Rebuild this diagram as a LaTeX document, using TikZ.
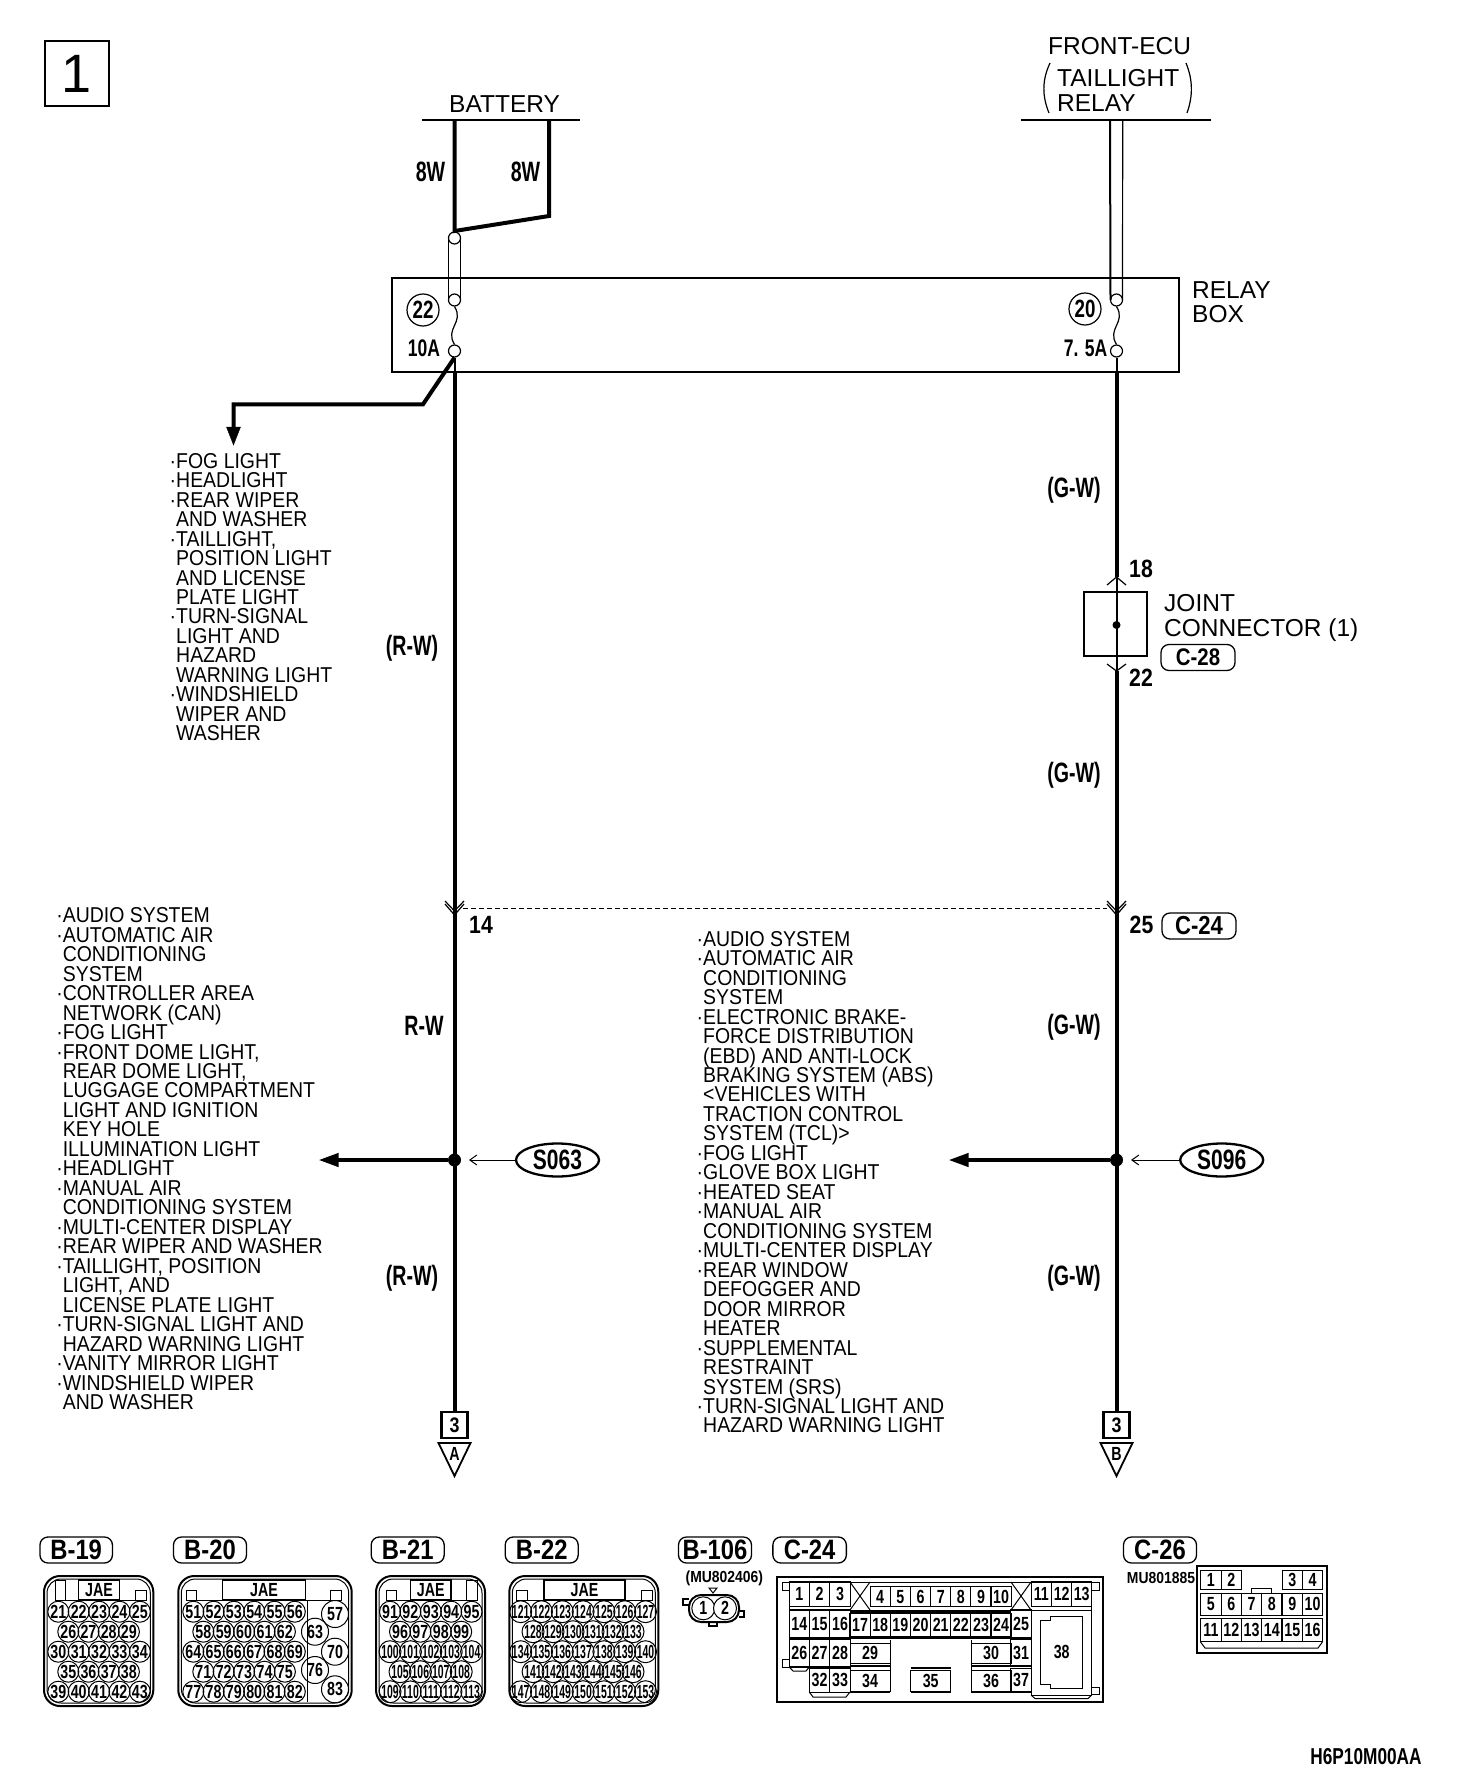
\documentclass[tikz,border=0pt]{standalone}
\usepackage{fontspec}
\setmainfont{Liberation Sans}
\newfontfamily\listfont[FakeStretch=0.905]{Liberation Sans}
\newfontfamily\lblfont[FakeStretch=0.85]{Liberation Sans}
\newfontfamily\codefont[FakeStretch=0.7]{Liberation Sans}
\newfontfamily\ampfont[FakeStretch=0.73]{Liberation Sans}
\newfontfamily\partfont[FakeStretch=0.87]{Liberation Sans}
\newfontfamily\pinfont[FakeStretch=0.75]{Liberation Sans}
\newfontfamily\tinypinfont[FakeStretch=0.55]{Liberation Sans}
\usetikzlibrary{shapes.geometric,arrows.meta}

% list text with fixed line spacing
\newcommand{\listsetup}{\listfont\fontsize{21.5}{19.47}\selectfont\lineskiplimit=-20pt\relax}
% one row of round connector pins
\newcommand{\pinrow}[5]{%
  \foreach \n [count=\i from 0] in {#1,...,#2} {
    \node[pinhole] (p\n) at ({#3+\i*#5},#4) {\ifnum\n>99 \tinypinfont\fi\n};
  }}
% outer wall of a round pin connector
\newcommand{\housing}[2]{%
  \draw[line width=2pt, rounded corners=16pt] (#1,1576) rectangle (#2,1706);
  \draw[line width=1pt, rounded corners=14pt] (#1+3,1579) rectangle (#2-3,1703);}

\begin{document}
\begin{tikzpicture}[x=1pt,y=-1pt]
        % Define styles for nodes and edges
        \tikzstyle{wire}=[line width=4pt]
        \tikzstyle{thinwire}=[line width=2pt]
        \tikzstyle{sheath}=[line width=1.2pt]
        \tikzstyle{busbar}=[line width=2.6pt]
        \tikzstyle{branch}=[wire, -{Triangle[length=20pt,width=13pt]}]
        \tikzstyle{pointer}=[line width=1pt, -{Straight Barb[length=7pt,width=10pt]}]
        \tikzstyle{plug}=[line width=1.2pt]
        \tikzstyle{terminal}=[circle, draw=black, fill=white, line width=1.2pt, minimum size=12pt, inner sep=0pt]
        \tikzstyle{fusenum}=[circle, draw=black, line width=1.2pt, minimum size=32pt, inner sep=0pt, font=\pinfont\bfseries\fontsize{25}{25}\selectfont]
        \tikzstyle{junction}=[circle, fill=black, minimum size=13pt, inner sep=0pt]
        \tikzstyle{wirelabel}=[inner sep=0pt, font=\codefont\bfseries\fontsize{28}{28}\selectfont]
        \tikzstyle{amplabel}=[inner sep=0pt, font=\ampfont\bfseries\fontsize{24}{24}\selectfont]
        \tikzstyle{pinlabel}=[inner sep=0pt, font=\lblfont\bfseries\fontsize{25}{25}\selectfont]
        \tikzstyle{plainlabel}=[inner sep=0pt, align=left, font=\fontsize{24.5}{25}\selectfont]
        \tikzstyle{listing}=[inner sep=0pt, align=left, anchor=north west, font=\listsetup]
        \tikzstyle{badge}=[draw=black, line width=1.3pt, rounded corners=8pt, minimum height=26pt, inner sep=0pt, font=\lblfont\bfseries\fontsize{28}{28}\selectfont]
        \tikzstyle{splice}=[ellipse, draw=black, line width=2.3pt, minimum width=83pt, minimum height=33pt, inner sep=0pt, font=\pinfont\bfseries\fontsize{28}{28}\selectfont]
        \tikzstyle{sheet}=[draw=black, line width=2.4pt, minimum size=26pt, inner sep=0pt, font=\lblfont\bfseries\fontsize{21}{21}\selectfont]
        \tikzstyle{pinhole}=[circle, draw=black, line width=1pt, minimum size=21pt, inner sep=0pt, font=\pinfont\bfseries\fontsize{19}{19}\selectfont]
        \tikzstyle{bigpin}=[pinhole, minimum size=27pt]
        \tikzstyle{jae}=[draw=black, line width=1.2pt, minimum height=20pt, inner sep=0pt, font=\pinfont\bfseries\fontsize{19}{19}\selectfont]
        \tikzstyle{cell}=[draw=black, line width=1pt, inner sep=0pt, font=\pinfont\bfseries\fontsize{19}{19}\selectfont]
        \tikzstyle{partno}=[inner sep=0pt, font=\partfont\bfseries\fontsize{16}{16}\selectfont]
        \tikzstyle{thinline}=[line width=1pt]
        \tikzstyle{rule}=[line width=2pt]

        \useasboundingbox (0,0) rectangle (1456,1782);

        % Define title
        \node[draw=black, line width=2pt, minimum width=64pt, minimum height=65pt, inner sep=0pt, font=\fontsize{54}{54}\selectfont] (title) at (77,73.5) {1};

        % Define sources
        \node[plainlabel, anchor=base west] (battery) at (449,113) {BATTERY};
        \coordinate (batL) at (422,120);
        \coordinate (batR) at (580,120);
        \coordinate (wireA) at (454.5,120);
        \coordinate (wireB) at (549,120);
        \coordinate (kneeB) at (549,216);
        \coordinate (kneeA) at (454.5,231);
        \node[plainlabel, anchor=base west] (frontecu) at (1048,55) {FRONT-ECU};
        \node[plainlabel, anchor=base west] (taillight) at (1057,87) {TAILLIGHT};
        \node[plainlabel, anchor=base west] (relaytxt) at (1057,112) {RELAY};
        \coordinate (ecuL) at (1021,120);
        \coordinate (ecuR) at (1211,120);
        \coordinate (ecuA) at (1110,120);
        \coordinate (ecuB) at (1122.7,120);
        \draw[sheath] (1050,63) .. controls (1042,80) and (1042,96) .. (1049,113);
        \draw[sheath] (1186,63) .. controls (1193,80) and (1193,96) .. (1187,113);
        \node[wirelabel] (lab8a) at (430.5,171.5) {8W};
        \node[wirelabel] (lab8b) at (525.5,171.5) {8W};

        % Define relay box
        \node[draw=black, line width=1.2pt, minimum width=787pt, minimum height=94pt, inner sep=0pt] (relaybox) at (785.5,325) {};
        \node[plainlabel, anchor=north west, font=\fontsize{24.5}{24}\selectfont] (relaybl) at (1192,281) {RELAY\\BOX};
        \node[terminal] (tA) at (454.5,238) {};
        \node[terminal] (tB) at (454.5,300) {};
        \node[terminal] (tC) at (454.5,351) {};
        \node[terminal] (tD) at (1116.5,300) {};
        \node[terminal] (tE) at (1116.5,351) {};
        \node[fusenum] (f22) at (423,310) {22};
        \node[fusenum] (f20) at (1085,309) {20};
        \node[amplabel] (amp10) at (424,348) {10A};
        \node[amplabel] (amp75) at (1085.5,348) {7. 5A};

        % Define joint connector
        \node[draw=black, line width=1.2pt, minimum width=63pt, minimum height=64pt, inner sep=0pt] (joint) at (1115.5,624) {};
        \node[junction, minimum size=8pt] (jointdot) at (1116.5,625) {};
        \node[pinlabel] (pin18) at (1141,569) {18};
        \node[pinlabel] (pin22) at (1141,678) {22};
        \node[plainlabel, anchor=north west] (jointtxt) at (1164,594) {JOINT\\CONNECTOR (1)};
        \node[badge, minimum width=74pt, font=\lblfont\bfseries\fontsize{24}{24}\selectfont] (c28) at (1198,657.5) {C-28};

        % Define lower connector and junctions
        \node[pinlabel] (pin14) at (481,925) {14};
        \node[pinlabel] (pin25) at (1141.5,925) {25};
        \node[badge, minimum width=74pt, font=\lblfont\bfseries\fontsize{26}{26}\selectfont] (c24top) at (1199,926) {C-24};
        \node[junction] (jA) at (454.5,1160) {};
        \node[junction] (jB) at (1116.5,1160) {};
        \coordinate (tipA) at (318.5,1160);
        \coordinate (tipB) at (948.5,1160);
        \node[splice] (s063) at (557.5,1160) {S063};
        \node[splice] (s096) at (1221.7,1160) {S096};
        \coordinate (markA) at (469,1160);
        \coordinate (markB) at (1131,1160);
        \node[sheet] (offA) at (454.5,1425) {3};
        \node[sheet] (offB) at (1116.5,1425) {3};
        \node[inner sep=0pt, font=\pinfont\bfseries\fontsize{19}{19}\selectfont] (letA) at (454.5,1454) {A};
        \node[inner sep=0pt, font=\pinfont\bfseries\fontsize{19}{19}\selectfont] (letB) at (1116.5,1454) {B};

        % Define wire colour codes
        \node[wirelabel] (gw1) at (1074,490.5) {(G-W)};
        \node[wirelabel] (gw2) at (1074,775) {(G-W)};
        \node[wirelabel] (gw3) at (1074,1027.5) {(G-W)};
        \node[wirelabel] (gw4) at (1074,1278.5) {(G-W)};
        \node[wirelabel] (rw1) at (412,648.5) {(R-W)};
        \node[wirelabel] (rw2) at (424,1026) {R-W};
        \node[wirelabel] (rw3) at (412,1278.5) {(R-W)};

        % Draw wires
        \draw[busbar] (batL) -- (batR);
        \draw[busbar] (ecuL) -- (ecuR);
        \draw[wire, line join=miter] (wireA) -- (kneeA) -- (kneeB) -- (wireB);
        \draw[sheath] ([xshift=-6pt]tA.center) -- ([xshift=-6pt]tB.center);
        \draw[sheath] ([xshift=6pt]tA.center) -- ([xshift=6pt]tB.center);
        \draw[thinwire] (ecuA) -- ([xshift=-6pt]tD.center);
        \draw[sheath] (ecuB) -- ([xshift=6pt]tD.center);
        \draw[sheath] (tB.south) .. controls +(10,16) and +(-10,-16) .. (tC.north);
        \draw[sheath] (tD.south) .. controls +(10,16) and +(-10,-16) .. (tE.north);
        \draw[thinwire] (tC.south) -- (relaybox.south -| tC);
        \draw[thinwire] (tE.south) -- (relaybox.south -| tE);
        \draw[wire] (relaybox.south -| tC) -- (offA.north);
        \draw[wire] (relaybox.south -| tE) -- (1116.5,577);
        \draw[thinwire] (1116.5,577) -- (1116.5,671);
        \draw[wire] (1116.5,671) -- (offB.north);
        \coordinate (drop) at (423,404.3);
        \coordinate (dropend) at (233.5,445);
        \draw[wire, line join=miter] (tC.south) -- (drop) -- (dropend |- drop) -- ([yshift=16pt]dropend);
        \draw[fill=black] (226.5,427) -- (240.5,427) -- (dropend) -- cycle;
        \draw[branch] (jA) -- (tipA);
        \draw[branch] (jB) -- (tipB);
        \draw[pointer] (s063) -- (markA);
        \draw[pointer] (s096) -- (markB);

        % Draw plugs
        \draw[plug] (1107,585) -- (1116.5,577) -- (1126,585);
        \draw[plug] (1107,664) -- (1116.5,671) -- (1126,664);
        \foreach \px in {454.5,1116.5} {
          \draw[plug] (\px-9.5,901) -- (\px,911) -- (\px+9.5,901);
          \draw[plug] (\px-9.5,904) -- (\px,915) -- (\px+9.5,904);
        }
        \coordinate (dashA) at (463,908);
        \coordinate (dashB) at (1107,908);
        \draw[thinline, dash pattern=on 5pt off 3pt] (dashA) -- (dashB);

        % Draw off-page triangles
        \foreach \px in {454.5,1116.5} {
          \draw[line width=1.8pt] (\px-16,1443) -- (\px+16,1443) -- (\px,1476) -- cycle;
        }

        % Define system lists
        \node[listing] (listfog) at (176,453) {%
          \llap{\textperiodcentered}FOG LIGHT\\
          \llap{\textperiodcentered}HEADLIGHT\\
          \llap{\textperiodcentered}REAR WIPER\\
          AND WASHER\\
          \llap{\textperiodcentered}TAILLIGHT,\\
          POSITION LIGHT\\
          AND LICENSE\\
          PLATE LIGHT\\
          \llap{\textperiodcentered}TURN-SIGNAL\\
          LIGHT AND\\
          HAZARD\\
          WARNING LIGHT\\
          \llap{\textperiodcentered}WINDSHIELD\\
          WIPER AND\\
          WASHER};
        \node[listing] (lists063) at (62.6,907.5) {%
          \llap{\textperiodcentered}AUDIO SYSTEM\\
          \llap{\textperiodcentered}AUTOMATIC AIR\\
          CONDITIONING\\
          SYSTEM\\
          \llap{\textperiodcentered}CONTROLLER AREA\\
          NETWORK (CAN)\\
          \llap{\textperiodcentered}FOG LIGHT\\
          \llap{\textperiodcentered}FRONT DOME LIGHT,\\
          REAR DOME LIGHT,\\
          LUGGAGE COMPARTMENT\\
          LIGHT AND IGNITION\\
          KEY HOLE\\
          ILLUMINATION LIGHT\\
          \llap{\textperiodcentered}HEADLIGHT\\
          \llap{\textperiodcentered}MANUAL AIR\\
          CONDITIONING SYSTEM\\
          \llap{\textperiodcentered}MULTI-CENTER DISPLAY\\
          \llap{\textperiodcentered}REAR WIPER AND WASHER\\
          \llap{\textperiodcentered}TAILLIGHT, POSITION\\
          LIGHT, AND\\
          LICENSE PLATE LIGHT\\
          \llap{\textperiodcentered}TURN-SIGNAL LIGHT AND\\
          HAZARD WARNING LIGHT\\
          \llap{\textperiodcentered}VANITY MIRROR LIGHT\\
          \llap{\textperiodcentered}WINDSHIELD WIPER\\
          AND WASHER};
        \node[listing] (lists096) at (703,931) {%
          \llap{\textperiodcentered}AUDIO SYSTEM\\
          \llap{\textperiodcentered}AUTOMATIC AIR\\
          CONDITIONING\\
          SYSTEM\\
          \llap{\textperiodcentered}ELECTRONIC BRAKE-\\
          FORCE DISTRIBUTION\\
          (EBD) AND ANTI-LOCK\\
          BRAKING SYSTEM (ABS)\\
          <VEHICLES WITH\\
          TRACTION CONTROL\\
          SYSTEM (TCL)>\\
          \llap{\textperiodcentered}FOG LIGHT\\
          \llap{\textperiodcentered}GLOVE BOX LIGHT\\
          \llap{\textperiodcentered}HEATED SEAT\\
          \llap{\textperiodcentered}MANUAL AIR\\
          CONDITIONING SYSTEM\\
          \llap{\textperiodcentered}MULTI-CENTER DISPLAY\\
          \llap{\textperiodcentered}REAR WINDOW\\
          DEFOGGER AND\\
          DOOR MIRROR\\
          HEATER\\
          \llap{\textperiodcentered}SUPPLEMENTAL\\
          RESTRAINT\\
          SYSTEM (SRS)\\
          \llap{\textperiodcentered}TURN-SIGNAL LIGHT AND\\
          HAZARD WARNING LIGHT};

        % Define connector badges
        \node[badge, minimum width=72.5pt] (b19) at (76.2,1550) {B-19};
        \node[badge, minimum width=73pt] (b20) at (210,1550) {B-20};
        \node[badge, minimum width=73pt] (b21) at (407.7,1550) {B-21};
        \node[badge, minimum width=73pt] (b22) at (541.7,1550) {B-22};
        \node[badge, minimum width=73pt] (b106) at (715,1550) {B-106};
        \node[badge, minimum width=73.5pt] (c24) at (809.6,1550) {C-24};
        \node[badge, minimum width=73pt] (c26) at (1160,1550) {C-26};

        % Draw B-19
        \housing{44}{153.3}
        \node[jae, minimum width=40.3pt] (jae19) at (99,1590) {JAE};
        \draw[thinline] (55,1600.5) -- (146.7,1600.5);
        \draw[thinline] (55,1600.5) |- (65,1580) -- (65,1600.5);
        \draw[thinline] (135.3,1600.5) |- (146.7,1590.7) -- (146.7,1600.5);
        \pinrow{21}{25}{58.3}{1611.7}{20.4}
        \pinrow{26}{29}{68.3}{1631.7}{20.2}
        \pinrow{30}{34}{58.3}{1651.7}{20.4}
        \pinrow{35}{38}{68.3}{1671.7}{20.2}
        \pinrow{39}{43}{58.3}{1691.7}{20.4}

        % Draw B-20
        \housing{178.3}{351.7}
        \node[jae, minimum width=82.3pt] (jae20) at (264,1590) {JAE};
        \draw[thinline] (186,1600.5) -- (341.7,1600.5);
        \draw[thinline] (186,1600.5) |- (196.7,1590.7) -- (196.7,1600.5);
        \draw[thinline] (330.7,1600.5) |- (341.7,1590.7) -- (341.7,1600.5);
        \draw[thinline] (307.3,1600.5) -- (307.3,1702);
        \pinrow{51}{56}{193.3}{1611.7}{20.3}
        \pinrow{58}{62}{203.3}{1631.7}{20.4}
        \pinrow{64}{69}{193.3}{1651.7}{20.3}
        \pinrow{71}{75}{203.3}{1671.7}{20.4}
        \pinrow{77}{82}{193.3}{1691.7}{20.3}
        \node[bigpin] (p57) at (335,1614) {57};
        \node[bigpin] (p63) at (315,1631.7) {63};
        \node[bigpin] (p70) at (335,1651.7) {70};
        \node[bigpin] (p76) at (315,1670) {76};
        \node[bigpin] (p83) at (335,1689.3) {83};

        % Draw B-21
        \housing{376}{485}
        \node[jae, minimum width=40.3pt] (jae21) at (430.8,1590) {JAE};
        \draw[thinline] (386,1600.5) -- (477.3,1600.5);
        \draw[thinline] (386,1600.5) |- (396.7,1590.7) -- (396.7,1600.5);
        \draw[thinline] (466.7,1600.5) |- (477.3,1580) -- (477.3,1600.5);
        \pinrow{91}{95}{390}{1611.7}{20.4}
        \pinrow{96}{99}{400}{1631.7}{20.4}
        \pinrow{100}{104}{390}{1651.7}{20.4}
        \pinrow{105}{108}{400}{1671.7}{20.4}
        \pinrow{109}{113}{390}{1691.7}{20.4}

        % Draw B-22
        \housing{509.3}{658.3}
        \node[jae, minimum width=81pt] (jae22) at (584.5,1590) {JAE};
        \draw[thinline] (516.7,1600.5) -- (652.7,1600.5);
        \draw[thinline] (516.7,1600.5) |- (527.3,1590.7) -- (527.3,1600.5);
        \draw[thinline] (641.7,1600.5) |- (652.7,1590.7) -- (652.7,1600.5);
        \pinrow{121}{127}{520.7}{1611.7}{20.8}
        \pinrow{128}{133}{533}{1631.7}{20}
        \pinrow{134}{140}{520.7}{1651.7}{20.8}
        \pinrow{141}{146}{533}{1671.7}{20}
        \pinrow{147}{153}{520.7}{1691.7}{20.8}

        % Draw B-106
        \node[partno] (mu106) at (724.3,1578) {(MU802406)};
        \draw[thinline] (709,1588) -- (717,1588) -- (713,1593) -- cycle;
        \draw[rule, rounded corners=12pt] (689,1595) rectangle (739,1622);
        \draw[rule] (689,1599.3) -| (682.7,1605) -- (689,1605);
        \draw[rule] (739,1610.7) -| (744,1616.7) -- (739,1616.7);
        \draw[rule] (709.3,1622) |- (716.7,1626) -- (716.7,1622);
        \node[pinhole, fill=white, minimum size=23pt] (q1) at (703.3,1608.3) {1};
        \node[pinhole, fill=white, minimum size=23pt] (q2) at (725,1608.3) {2};

        % Draw C-24
        \draw[rule] (777.3,1576.7) rectangle (1103.3,1702.3);
        \draw[thinline] (789.3,1582) rectangle (1091.7,1610);
        \draw[thinline] (789.3,1610) rectangle (850,1667);
        \draw[thinline] (1031,1610) rectangle (1091.7,1695);
        \draw[thinline] (809.3,1667) -- (809.3,1692);
        \draw[thinline] (809.3,1692) -- (813,1697) -- (846,1697) -- (850,1692);
        \draw[thinline] (789.3,1667) -- (793,1671) -- (806,1671) -- (809.3,1667);
        \draw[thinline] (1031,1695) -- (1035,1698.5) -- (1088,1698.5) -- (1091.7,1695);
        \draw[thinline] (782,1582) rectangle (789.3,1590);
        \draw[thinline] (782,1659) rectangle (789.3,1667);
        \draw[thinline] (1091.7,1582) rectangle (1099.3,1590);
        \draw[thinline] (1091.7,1687) rectangle (1099.3,1694.3);
        \foreach \n/\px in {1/799.3,2/819.6,3/840,11/1041.3,12/1061.7,13/1081.7} {
          \node[cell, minimum width=20.3pt, minimum height=24.7pt] (c\n) at (\px,1594.3) {\n};
        }
        \foreach \n/\px in {4/880.2,5/900.3,6/920.5,7/940.7,8/960.8,9/981,10/1001} {
          \node[cell, minimum width=20.2pt, minimum height=20pt] (c\n) at (\px,1596.7) {\n};
        }
        \foreach \n/\px in {14/799.3,15/819.6,16/840,25/1021} {
          \node[cell, minimum width=20.2pt, minimum height=27.5pt] (c\n) at (\px,1623.7) {\n};
        }
        \foreach \n/\px in {17/860,18/880.2,19/900.3,20/920.5,21/940.7,22/960.8,23/981,24/1001} {
          \node[cell, minimum width=20.2pt, minimum height=23.4pt] (c\n) at (\px,1625) {\n};
        }
        \foreach \n/\px in {26/799.3,27/819.6,28/840,31/1021} {
          \node[cell, minimum width=20.2pt, minimum height=26.7pt] (c\n) at (\px,1653.3) {\n};
        }
        \foreach \n/\px in {29/870,30/991} {
          \node[cell, minimum width=40pt, minimum height=20pt] (c\n) at (\px,1653.3) {\n};
        }
        \foreach \n/\px in {32/819.6,33/840,37/1021} {
          \node[cell, minimum width=20.2pt, minimum height=24pt] (c\n) at (\px,1680) {\n};
        }
        \foreach \n/\px in {34/870,35/930.7,36/991} {
          \node[cell, minimum width=40pt, minimum height=21pt] (c\n) at (\px,1681.2) {\n};
        }
        \draw[thinline] (850,1582) -- (870,1610) (870,1582) -- (850,1610);
        \draw[thinline] (1011,1582) -- (1031,1610) (1031,1582) -- (1011,1610);
        \draw[rule] (789.3,1637.5) -- (1031,1637.5);
        \draw[rule] (850,1612) -- (1011,1612);
        \draw[rule] (850,1666) -- (890,1666);
        \draw[rule] (971,1666) -- (1031,1666);
        \draw[rule] (910.5,1668) -- (951,1668);
        \draw[rule] (850,1692) -- (890,1692);
        \draw[rule] (910.5,1692) -- (951,1692);
        \draw[rule] (971,1692) -- (1031,1692);
        \draw[thinline] (890,1640) -- (890,1692);
        \draw[thinline] (971,1640) -- (971,1692);
        \draw[thinline] (1031,1640) -- (1031,1692);
        \node[inner sep=0pt, font=\pinfont\bfseries\fontsize{19}{19}\selectfont] (c38) at (1061.7,1652.3) {38};
        \draw[thinline] (1040,1620.7) -- (1050,1620.7) -- (1050,1616) -- (1082.7,1616) -- (1082.7,1688.3) -- (1050,1688.3) -- (1050,1684) -- (1040,1684) -- cycle;

        % Draw C-26
        \node[partno] (mu26) at (1161,1578.3) {MU801885};
        \draw[rule] (1197,1566) rectangle (1326.7,1653.3);
        \foreach \n/\px in {1/1210.9,2/1231.4,3/1292.3,4/1312.6} {
          \node[cell, minimum width=20.3pt, minimum height=19.3pt] (d\n) at (\px,1580.3) {\n};
        }
        \foreach \n/\px in {5/1210.9,6/1231.4,7/1251.5,8/1271.8,9/1292.3,10/1312.6} {
          \node[cell, minimum width=20.3pt, minimum height=22pt] (d\n) at (\px,1604) {\n};
        }
        \foreach \n/\px in {11/1210.9,12/1231.4,13/1251.5,14/1271.8,15/1292.3,16/1312.6} {
          \node[cell, minimum width=20.3pt, minimum height=22.7pt] (d\n) at (\px,1630.3) {\n};
        }
        \draw[thinline] (1251.5,1593) |- (1271.4,1588) -- (1271.4,1593);
        \draw[thinline] (1200.3,1641.7) -- (1205,1648) -- (1318,1648) -- (1322.6,1641.7);

        % Define drawing code
        \node[pinlabel, font=\pinfont\bfseries\fontsize{23}{23}\selectfont] (code) at (1366,1757) {H6P10M00AA};
\end{tikzpicture}
\end{document}
